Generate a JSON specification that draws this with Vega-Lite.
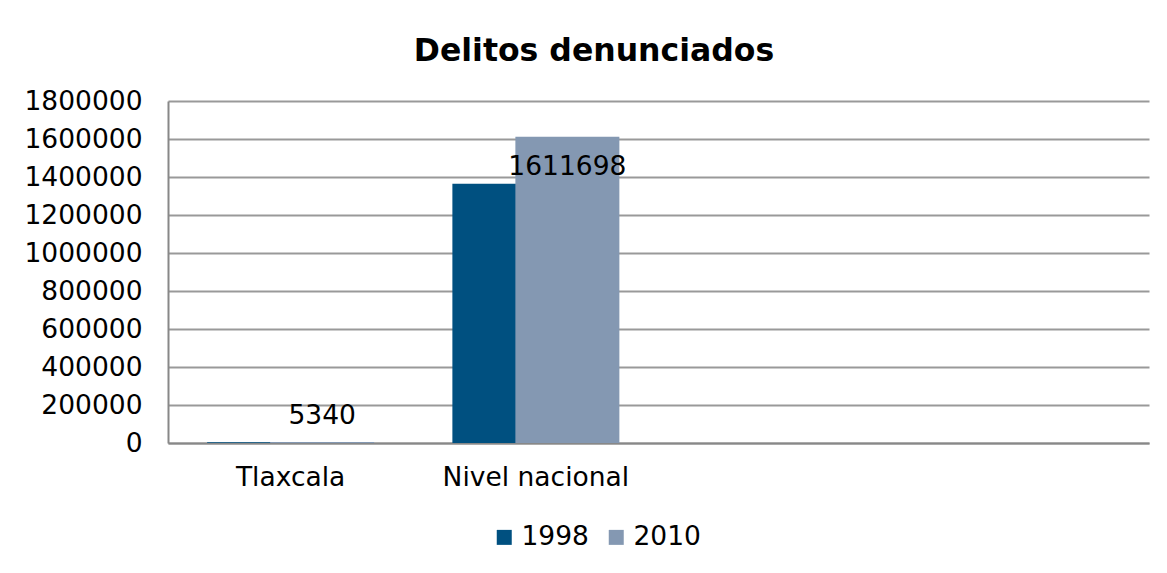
{
  "$schema": "https://vega.github.io/schema/vega-lite/v6.json",
  "width": 981,
  "height": 342,
  "padding": {"left": 5, "top": 35, "right": 18, "bottom": 5},
  "background": "white",
  "title": {
    "text": "Delitos denunciados",
    "font": "DejaVu Sans",
    "fontSize": 31.5,
    "fontWeight": "bold",
    "color": "#000000",
    "anchor": "middle",
    "frame": "bounds",
    "offset": 21,
    "dx": 17
  },
  "data": {
    "values": [
      {"region": "Tlaxcala", "year": "1998", "value": 3500},
      {"region": "Tlaxcala", "year": "2010", "value": 5340},
      {"region": "Nivel nacional", "year": "1998", "value": 1365000},
      {"region": "Nivel nacional", "year": "2010", "value": 1611698}
    ]
  },
  "encoding": {
    "x": {
      "field": "region",
      "type": "nominal",
      "sort": null,
      "scale": {"domain": ["Tlaxcala", "Nivel nacional", " ", "  "], "paddingInner": 0, "paddingOuter": 0},
      "axis": {
        "title": null,
        "labelAngle": 0,
        "labelFont": "DejaVu Sans",
        "labelFontSize": 26.5,
        "labelColor": "#000000",
        "labelPadding": 21,
        "labelLimit": 0,
        "ticks": false,
        "domainColor": "#888888",
        "domainWidth": 2,
        "grid": false
      }
    },
    "y": {
      "field": "value",
      "type": "quantitative",
      "scale": {"domain": [0, 1800000], "nice": false},
      "axis": {
        "title": null,
        "values": [0, 200000, 400000, 600000, 800000, 1000000, 1200000, 1400000, 1600000, 1800000],
        "format": "d",
        "labelFont": "DejaVu Sans",
        "labelFontSize": 26.5,
        "labelColor": "#000000",
        "labelPadding": 26,
        "ticks": false,
        "domainColor": "#888888",
        "domainWidth": 2,
        "gridColor": "#999999",
        "gridWidth": 2,
        "minExtent": 163,
        "maxExtent": 163
      }
    }
  },
  "layer": [
    {
      "transform": [{"filter": "datum.year == '1998'"}],
      "mark": {"type": "bar", "width": {"band": 0.424}, "xOffset": -31.5},
      "encoding": {
        "color": {
          "field": "year",
          "type": "nominal",
          "scale": {"domain": ["1998", "2010"], "range": ["#005080", "#8498B2"]},
          "legend": {
            "title": null,
            "orient": "none",
            "legendX": 323,
            "legendY": 423,
            "direction": "horizontal",
            "symbolType": "square",
            "symbolSize": 225,
            "symbolStrokeWidth": 0,
            "labelFont": "DejaVu Sans",
            "labelFontSize": 26.5,
            "labelColor": "#000000",
            "labelOffset": 4,
            "columnPadding": 14
          }
        }
      }
    },
    {
      "transform": [{"filter": "datum.year == '2010'"}],
      "mark": {"type": "bar", "width": {"band": 0.424}, "xOffset": 31.5},
      "encoding": {
        "color": {"field": "year", "type": "nominal"}
      }
    },
    {
      "transform": [{"filter": "datum.year == '2010' && datum.region == 'Nivel nacional'"}],
      "mark": {"type": "text", "font": "DejaVu Sans", "fontSize": 26.5, "color": "#000000", "baseline": "middle", "xOffset": 31.5, "dy": 30},
      "encoding": {"text": {"field": "value", "type": "quantitative", "format": "d"}}
    },
    {
      "transform": [{"filter": "datum.year == '2010' && datum.region == 'Tlaxcala'"}],
      "mark": {"type": "text", "font": "DejaVu Sans", "fontSize": 26.5, "color": "#000000", "baseline": "middle", "xOffset": 31.5, "dy": -26},
      "encoding": {"text": {"field": "value", "type": "quantitative", "format": "d"}}
    }
  ],
  "config": {"view": {"stroke": null}}
}
